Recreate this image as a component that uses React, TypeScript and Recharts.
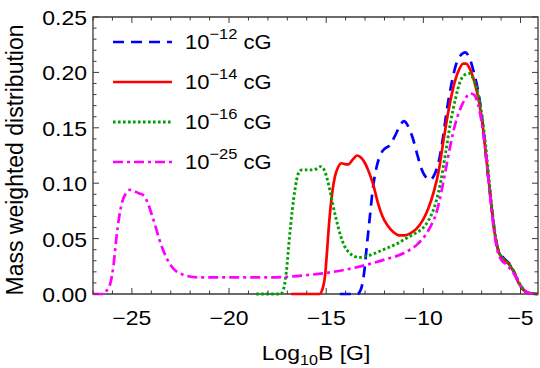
import React from "react";
import { Legend, Line, LineChart, ReferenceArea, XAxis, YAxis } from "recharts";

// log10 B [G] sample points and mass weighted distribution
const blueX = [-14.3, -13.4, -13.2, -13.05, -12.9, -12.75, -12.6, -12.4, -12.2, -12.0, -11.75, -11.45, -11.2, -11.0, -10.8, -10.55, -10.3, -10.1, -9.85, -9.65, -9.45, -9.2, -9.0, -8.8, -8.55, -8.3, -8.05, -7.85, -7.65, -7.4, -7.15, -6.95, -6.75, -6.55, -6.35, -6.15, -5.9, -5.6, -5.35, -5.1, -4.8, -4.5, -4.1];
const blueY = [0, 0, 0.005, 0.019, 0.045, 0.07, 0.095, 0.115, 0.126, 0.131, 0.134, 0.143, 0.152, 0.156, 0.152, 0.141, 0.125, 0.113, 0.105, 0.103, 0.107, 0.12, 0.14, 0.165, 0.19, 0.208, 0.216, 0.218, 0.214, 0.2, 0.18, 0.155, 0.12, 0.088, 0.058, 0.04, 0.033, 0.028, 0.021, 0.01, 0.003, 0.0005, 0];

const redX = [-16.8, -15.35, -15.2, -15.05, -14.95, -14.85, -14.7, -14.55, -14.4, -14.2, -14.0, -13.85, -13.65, -13.4, -13.2, -13.0, -12.8, -12.6, -12.35, -12.1, -11.85, -11.55, -11.25, -10.95, -10.65, -10.35, -10.05, -9.75, -9.45, -9.2, -8.95, -8.7, -8.45, -8.2, -7.95, -7.8, -7.6, -7.35, -7.1, -6.9, -6.7, -6.5, -6.3, -6.1, -5.85, -5.6, -5.35, -5.1, -4.8, -4.5, -4.1];
const redY = [0, 0, 0.004, 0.018, 0.04, 0.064, 0.09, 0.106, 0.114, 0.118, 0.117, 0.117, 0.121, 0.125, 0.123, 0.118, 0.11, 0.1, 0.083, 0.07, 0.062, 0.056, 0.053, 0.053, 0.055, 0.059, 0.066, 0.077, 0.093, 0.112, 0.14, 0.166, 0.187, 0.201, 0.208, 0.208, 0.203, 0.19, 0.17, 0.145, 0.113, 0.08, 0.052, 0.037, 0.031, 0.027, 0.02, 0.01, 0.003, 0.0005, 0];

const greenX = [-18.6, -17.35, -17.2, -17.05, -16.9, -16.75, -16.6, -16.45, -16.25, -16.0, -15.75, -15.5, -15.3, -15.1, -14.95, -14.8, -14.65, -14.45, -14.25, -14.05, -13.8, -13.55, -13.3, -13.0, -12.6, -12.2, -11.8, -11.4, -11.0, -10.6, -10.2, -9.9, -9.6, -9.35, -9.1, -8.85, -8.6, -8.35, -8.1, -7.85, -7.65, -7.45, -7.2, -7.0, -6.8, -6.6, -6.4, -6.2, -6.0, -5.75, -5.5, -5.25, -5.0, -4.7, -4.4, -4.1];
const greenY = [0, 0, 0.004, 0.02, 0.049, 0.075, 0.095, 0.108, 0.112, 0.112, 0.112, 0.113, 0.115, 0.112, 0.104, 0.093, 0.08, 0.065, 0.052, 0.043, 0.037, 0.034, 0.033, 0.034, 0.036, 0.039, 0.042, 0.045, 0.049, 0.053, 0.057, 0.062, 0.071, 0.083, 0.102, 0.128, 0.155, 0.176, 0.192, 0.198, 0.199, 0.195, 0.182, 0.163, 0.135, 0.1, 0.067, 0.043, 0.034, 0.03, 0.025, 0.017, 0.008, 0.002, 0.0003, 0];

const magentaX = [-27, -26.45, -26.3, -26.1, -25.95, -25.8, -25.65, -25.5, -25.3, -25.1, -24.9, -24.65, -24.4, -24.2, -24.0, -23.8, -23.6, -23.4, -23.2, -23.0, -22.75, -22.45, -22.1, -21.6, -20, -18, -17, -16, -15, -14, -13, -12, -11, -10.3, -9.9, -9.6, -9.35, -9.1, -8.85, -8.6, -8.35, -8.1, -7.85, -7.6, -7.4, -7.2, -7.0, -6.8, -6.6, -6.4, -6.2, -6.0, -5.75, -5.5, -5.25, -5.0, -4.7, -4.4, -4.1];
const magentaY = [0, 0, 0.003, 0.01, 0.025, 0.05, 0.07, 0.083, 0.091, 0.094, 0.093, 0.091, 0.089, 0.083, 0.073, 0.062, 0.05, 0.04, 0.032, 0.026, 0.021, 0.018, 0.016, 0.015, 0.015, 0.015, 0.0155, 0.017, 0.019, 0.022, 0.026, 0.031, 0.037, 0.045, 0.053, 0.062, 0.072, 0.09, 0.112, 0.135, 0.154, 0.167, 0.176, 0.181, 0.18, 0.172, 0.155, 0.128, 0.095, 0.062, 0.04, 0.031, 0.027, 0.022, 0.016, 0.008, 0.002, 0.0003, 0];

const legendExp = ["\u221212", "\u221214", "\u221216", "\u221225"];
const xMajor = [-25, -20, -15, -10, -5];
const yMajor = [0, 0.05, 0.1, 0.15, 0.2, 0.25];

const W = 540;
const H = 368;
const PLOT_TOP = 17;
const PLOT_RIGHT = 538;
const FRAME = "#3a3a3a";
const FONT = '"Liberation Sans", Arial, Helvetica, sans-serif';
const SX = 1.15;

const pts = (xs: number[], ys: number[]) => xs.map((x, i) => ({ x, y: ys[i] }));

const series = [
  { key: "b", data: pts(blueX, blueY), color: "#0000ff", dash: "11 7", width: 2.7 },
  { key: "r", data: pts(redX, redY), color: "#ff0000", dash: undefined, width: 2.7 },
  { key: "g", data: pts(greenX, greenY), color: "#00a000", dash: "2.6 2.4", width: 2.9 },
  { key: "m", data: pts(magentaX, magentaY), color: "#ff00ff", dash: "10 4 3 4", width: 2.7 },
];

const xTicks: number[] = [];
for (let v = -27; v <= -5; v++) xTicks.push(v);
const yTicks: number[] = [];
for (let i = 0; i <= 25; i++) yTicks.push(i / 100);

const fmtX = (v: number) => (v < 0 ? "\u2212" + Math.abs(v) : String(v));

function XTick(props: any) {
  const { x, y, payload } = props;
  const v = payload.value as number;
  const major = xMajor.includes(v);
  const len = major ? 6 : 3.5;
  return (
    <g>
      <line x1={x} x2={x} y1={y} y2={y - len} stroke={FRAME} strokeWidth={1} />
      <line x1={x} x2={x} y1={PLOT_TOP} y2={PLOT_TOP + len} stroke={FRAME} strokeWidth={1} />
      {major && (
        <text
          transform={`translate(${x},${y + 31}) scale(${SX},1)`}
          textAnchor="middle"
          fontSize={20}
          fontFamily={FONT}
          fill="#000"
        >
          {fmtX(v)}
        </text>
      )}
    </g>
  );
}

function YTick(props: any) {
  const { x, y, payload } = props;
  const v = payload.value as number;
  const major = yMajor.some((m) => Math.abs(m - v) < 1e-9);
  const len = major ? 6 : 3.5;
  return (
    <g>
      <line x1={x} x2={x + len} y1={y} y2={y} stroke={FRAME} strokeWidth={1} />
      <line x1={PLOT_RIGHT} x2={PLOT_RIGHT - len} y1={y} y2={y} stroke={FRAME} strokeWidth={1} />
      {major && (
        <text
          transform={`translate(${x - 6},${y + 8}) scale(${SX},1)`}
          textAnchor="end"
          fontSize={20}
          fontFamily={FONT}
          fill="#000"
        >
          {v.toFixed(2)}
        </text>
      )}
    </g>
  );
}

const renderXLabel = () => (
  <text
    transform={`translate(316,360) scale(${SX},1)`}
    textAnchor="middle"
    fontSize={20}
    fontFamily={FONT}
    fill="#000"
  >
    Log
    <tspan fontSize={14} dy={5}>10</tspan>
    <tspan dy={-5}>B [G]</tspan>
  </text>
);

const renderYLabel = () => (
  <text
    x={23}
    y={160}
    transform="rotate(-90 23 160)"
    textAnchor="middle"
    fontSize={23}
    fontFamily={FONT}
    fill="#000"
  >
    Mass weighted distribution
  </text>
);

const renderLegend = () => (
  <svg width={200} height={160} style={{ overflow: "visible" }}>
    {series.map((s, i) => {
      const cy = 20 + i * 40;
      return (
        <g key={s.key}>
          <line x1={13} x2={72} y1={cy} y2={cy} stroke={s.color} strokeWidth={s.width} strokeDasharray={s.dash} />
          <text
            transform={`translate(85,${cy + 7}) scale(1.1,1)`}
            fontSize={20}
            fontFamily={FONT}
            fill="#000"
          >
            10
            <tspan fontSize={15} dy={-10}>{legendExp[i]}</tspan>
            <tspan dy={10}> cG</tspan>
          </text>
        </g>
      );
    })}
  </svg>
);

export default function App() {
  return (
    <div style={{ position: "absolute", left: 0, top: 0, background: "#fff" }}>
      <LineChart width={W} height={H} margin={{ top: PLOT_TOP, right: W - PLOT_RIGHT, bottom: 0, left: 0 }}>
        <XAxis
          type="number"
          dataKey="x"
          domain={[-27, -4.1]}
          ticks={xTicks}
          interval={0}
          height={74}
          tickSize={0}
          tickMargin={0}
          tickLine={false}
          axisLine={false}
          tick={<XTick />}
          label={{ content: renderXLabel }}
        />
        <YAxis
          type="number"
          domain={[0, 0.25]}
          ticks={yTicks}
          interval={0}
          width={93}
          tickSize={0}
          tickMargin={0}
          tickLine={false}
          axisLine={false}
          tick={<YTick />}
          label={{ content: renderYLabel }}
        />
        <ReferenceArea x1={-27} x2={-4.1} y1={0} y2={0.25} fill="none" stroke={FRAME} strokeWidth={1.3} />
        {series.map((s) => (
          <Line
            key={s.key}
            data={s.data}
            dataKey="y"
            type="monotone"
            stroke={s.color}
            strokeWidth={s.width}
            strokeDasharray={s.dash}
            dot={false}
            activeDot={false}
            isAnimationActive={false}
          />
        ))}
        <Legend
          content={renderLegend}
          layout="horizontal"
          verticalAlign="middle"
          align="center"
          wrapperStyle={{ top: 22, left: 100, width: 200, height: 160 }}
        />
      </LineChart>
    </div>
  );
}
